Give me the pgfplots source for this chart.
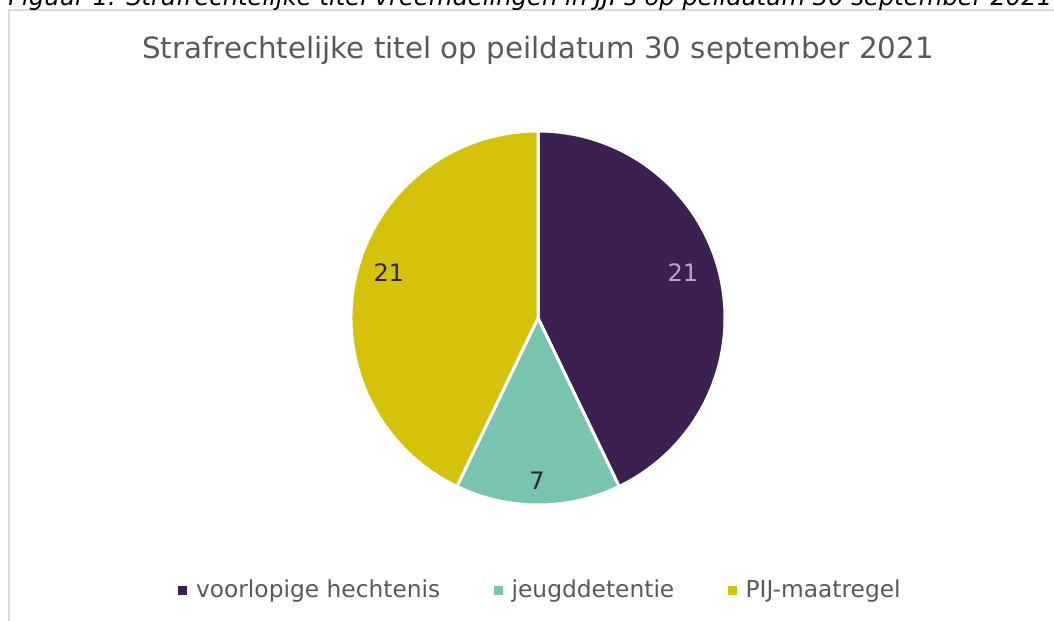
\documentclass[border=0pt]{standalone}
\usepackage{pgfplots}
\pgfplotsset{compat=1.18}
\usepackage{pgfplotstable}
\usepackage{fontspec}
\setmainfont{DejaVu Sans}
\definecolor{cA}{HTML}{3B2151}
\definecolor{cB}{HTML}{78C4AE}
\definecolor{cC}{HTML}{D4C20B}
\definecolor{lblA}{HTML}{B79FD9}
\definecolor{lblD}{HTML}{2E2440}
\definecolor{txt}{HTML}{595959}
\definecolor{frame}{HTML}{D9D9D9}
\pgfplotstableread[col sep=comma]{
label,value
voorlopige hechtenis,21
jeugddetentie,7
PIJ-maatregel,21
}\piedata
\pgfplotstablegetelem{0}{value}\of\piedata \pgfmathtruncatemacro\va{\pgfplotsretval}
\pgfplotstablegetelem{1}{value}\of\piedata \pgfmathtruncatemacro\vb{\pgfplotsretval}
\pgfplotstablegetelem{2}{value}\of\piedata \pgfmathtruncatemacro\vc{\pgfplotsretval}
\pgfmathsetmacro\tot{\va+\vb+\vc}
\pgfmathsetmacro\aA{90-360*\va/\tot}
\pgfmathsetmacro\aB{\aA-360*\vb/\tot}
\pgfmathsetmacro\aC{\aB-360*\vc/\tot}
\begin{document}
\begin{tikzpicture}[x=0.75pt,y=0.75pt]
\useasboundingbox (0,0) rectangle (1054,621);
\clip (0,0) rectangle (1054,621);
\begin{axis}[at={(0,0)},anchor=south west, scale only axis,
  width=790.5pt, height=465.75pt,
  xmin=0,xmax=1054,ymin=0,ymax=621, hide axis, clip=false,
  legend columns=3,
  legend style={at={(axis cs:541,31)}, anchor=center, draw=none, fill=none,
    font=\fontsize{17.5}{21}\selectfont, text=txt,
    /tikz/every odd column/.append style={column sep=5pt},
    /tikz/every even column/.append style={column sep=38.5pt}},
  legend cell align=left]
\addlegendimage{only marks, mark=square*, mark size=3pt, cA}
\addlegendentry{voorlopige hechtenis}
\addlegendimage{only marks, mark=square*, mark size=3pt, cB}
\addlegendentry{jeugddetentie}
\addlegendimage{only marks, mark=square*, mark size=3pt, cC}
\addlegendentry{PIJ-maatregel}
% frame
\draw[frame, line width=1.5pt] (axis cs:9,0) -- (axis cs:9,611) -- (axis cs:1060,611);
% caption (cut off at top)
\node[anchor=base west, inner sep=0pt, font=\itshape\fontsize{18.2}{21}\selectfont, text=black] at (axis cs:8,615) {Figuur 1. Strafrechtelijke titel vreemdelingen in JJI's op peildatum 30 september 2021};
% title
\node[anchor=center, font=\fontsize{22}{26}\selectfont, text=txt] at (axis cs:538,571) {Strafrechtelijke titel op peildatum 30 september 2021};
% slices
\filldraw[fill=cA, draw=white, line width=2.25pt, line join=round] (axis cs:538,303) -- ++(90:140.25pt) arc[start angle=90, end angle=\aA, radius=140.25pt] -- cycle;
\filldraw[fill=cB, draw=white, line width=2.25pt, line join=round] (axis cs:538,303) -- ++(\aA:140.25pt) arc[start angle=\aA, end angle=\aB, radius=140.25pt] -- cycle;
\filldraw[fill=cC, draw=white, line width=2.25pt, line join=round] (axis cs:538,303) -- ++(\aB:140.25pt) arc[start angle=\aB, end angle=\aC, radius=140.25pt] -- cycle;
% labels
\node[font=\fontsize{18}{21}\selectfont, text=lblA] at (axis cs:683,348) {\va};
\node[font=\fontsize{18}{21}\selectfont, text=lblD] at (axis cs:537,140) {\vb};
\node[font=\fontsize{18}{21}\selectfont, text=lblD] at (axis cs:389,348) {\vc};
\end{axis}
\end{tikzpicture}
\end{document}
